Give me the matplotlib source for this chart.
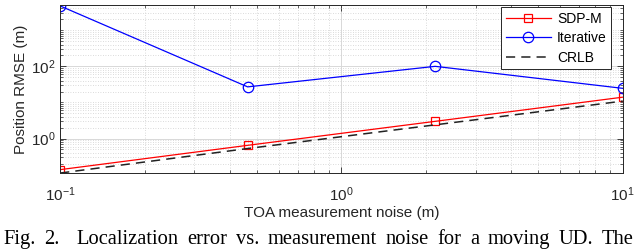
import numpy as np
import matplotlib
matplotlib.use("Agg")
import matplotlib.pyplot as plt
from matplotlib.ticker import LogLocator, NullFormatter, FixedLocator

plt.rcParams['font.family'] = ['Liberation Sans', 'DejaVu Sans']
plt.rcParams['mathtext.fontset'] = 'custom'
plt.rcParams['mathtext.rm'] = 'Liberation Sans'

# data
noise = [0.1, 0.464, 2.154, 10.0]
sdp_m = [0.138, 0.65, 3.0, 14.0]
iterative = [4700, 27, 100, 24.6]
crlb = [0.111, 0.53, 2.4, 10.9]
caption = ['Fig.', '2.', '', 'Localization', 'error', 'vs.', 'measurement', 'noise',
           'for', 'a', 'moving', 'UD.', 'The']

fig = plt.figure(figsize=(6.4, 2.49), dpi=100)
ax = fig.add_axes([0.094, 0.305, 0.879, 0.675])

ax.plot(noise, sdp_m, color='red', lw=0.9, marker='s', ms=6, mfc='none', mew=0.9, label='SDP-M')
ax.plot(noise, iterative, color='blue', lw=0.9, marker='o', ms=7.5, mfc='none', mew=0.9, label='Iterative')
ax.plot(noise, crlb, color='#222222', lw=1.1, ls=(0, (6, 4)), label='CRLB')

ax.set_xscale('log')
ax.set_yscale('log')
ax.set_xlim(0.1, 10)
ax.set_ylim(0.111, 5000)

ax.xaxis.set_major_locator(FixedLocator([0.1, 1, 10]))
ax.xaxis.set_minor_locator(LogLocator(base=10, subs=np.arange(2, 10)))
ax.xaxis.set_minor_formatter(NullFormatter())
ax.yaxis.set_major_locator(FixedLocator([1, 100]))
ymin = []
for d in [-1, 0, 1, 2, 3]:
    for s in range(1, 10):
        v = s * 10.0 ** d
        if v not in (1, 100):
            ymin.append(v)
ax.yaxis.set_minor_locator(FixedLocator(ymin))
ax.yaxis.set_minor_formatter(NullFormatter())

ax.grid(True, which='major', color='#d8d8d8', lw=0.7, ls='-')
ax.grid(True, which='minor', color='#cfcfcf', lw=0.6, ls=(0, (1, 2)))
ax.set_axisbelow(True)

ax.tick_params(which='both', direction='in', top=True, right=True, colors='#262626', labelcolor='#262626')
ax.tick_params(which='major', length=4, width=0.6, labelsize=11)
ax.tick_params(which='minor', length=2, width=0.5)
ax.tick_params(axis='x', which='major', pad=9)
for sp in ax.spines.values():
    sp.set_color('#262626')
    sp.set_linewidth(0.7)

ax.set_xlabel('TOA measurement noise (m)', fontsize=11, color='#262626', labelpad=1)
ax.set_ylabel('Position RMSE (m)', fontsize=11, color='#262626', labelpad=2)

leg = ax.legend(loc='upper right', bbox_to_anchor=(0.98, 0.99), fontsize=10, fancybox=False,
                framealpha=1, edgecolor='#262626', borderpad=0.35, labelspacing=0.4,
                handlelength=3.2, handletextpad=0.45, borderaxespad=0)
leg.get_frame().set_linewidth(0.7)

# justified caption line
fig.canvas.draw()
r = fig.canvas.get_renderer()
words = [w for w in caption if w]
texts = [fig.text(0, 0.02, w, fontsize=14.8, family=['Liberation Serif', 'DejaVu Serif'],
                  ha='left', va='baseline') for w in words]
widths = [t.get_window_extent(r).width for t in texts]
# gaps: double after "2."
gaps = []
for k in range(1, len(caption)):
    if caption[k] == '':
        continue
    gaps.append(2 if caption[k - 1] == '' else 1)
x0, x1 = 3.0, 634.0
unit = (x1 - x0 - sum(widths)) / sum(gaps)
x = x0
for k, t in enumerate(texts):
    t.set_x(x / 640)
    x += widths[k]
    if k < len(gaps):
        x += gaps[k] * unit

fig.savefig('out.png', dpi=100)
